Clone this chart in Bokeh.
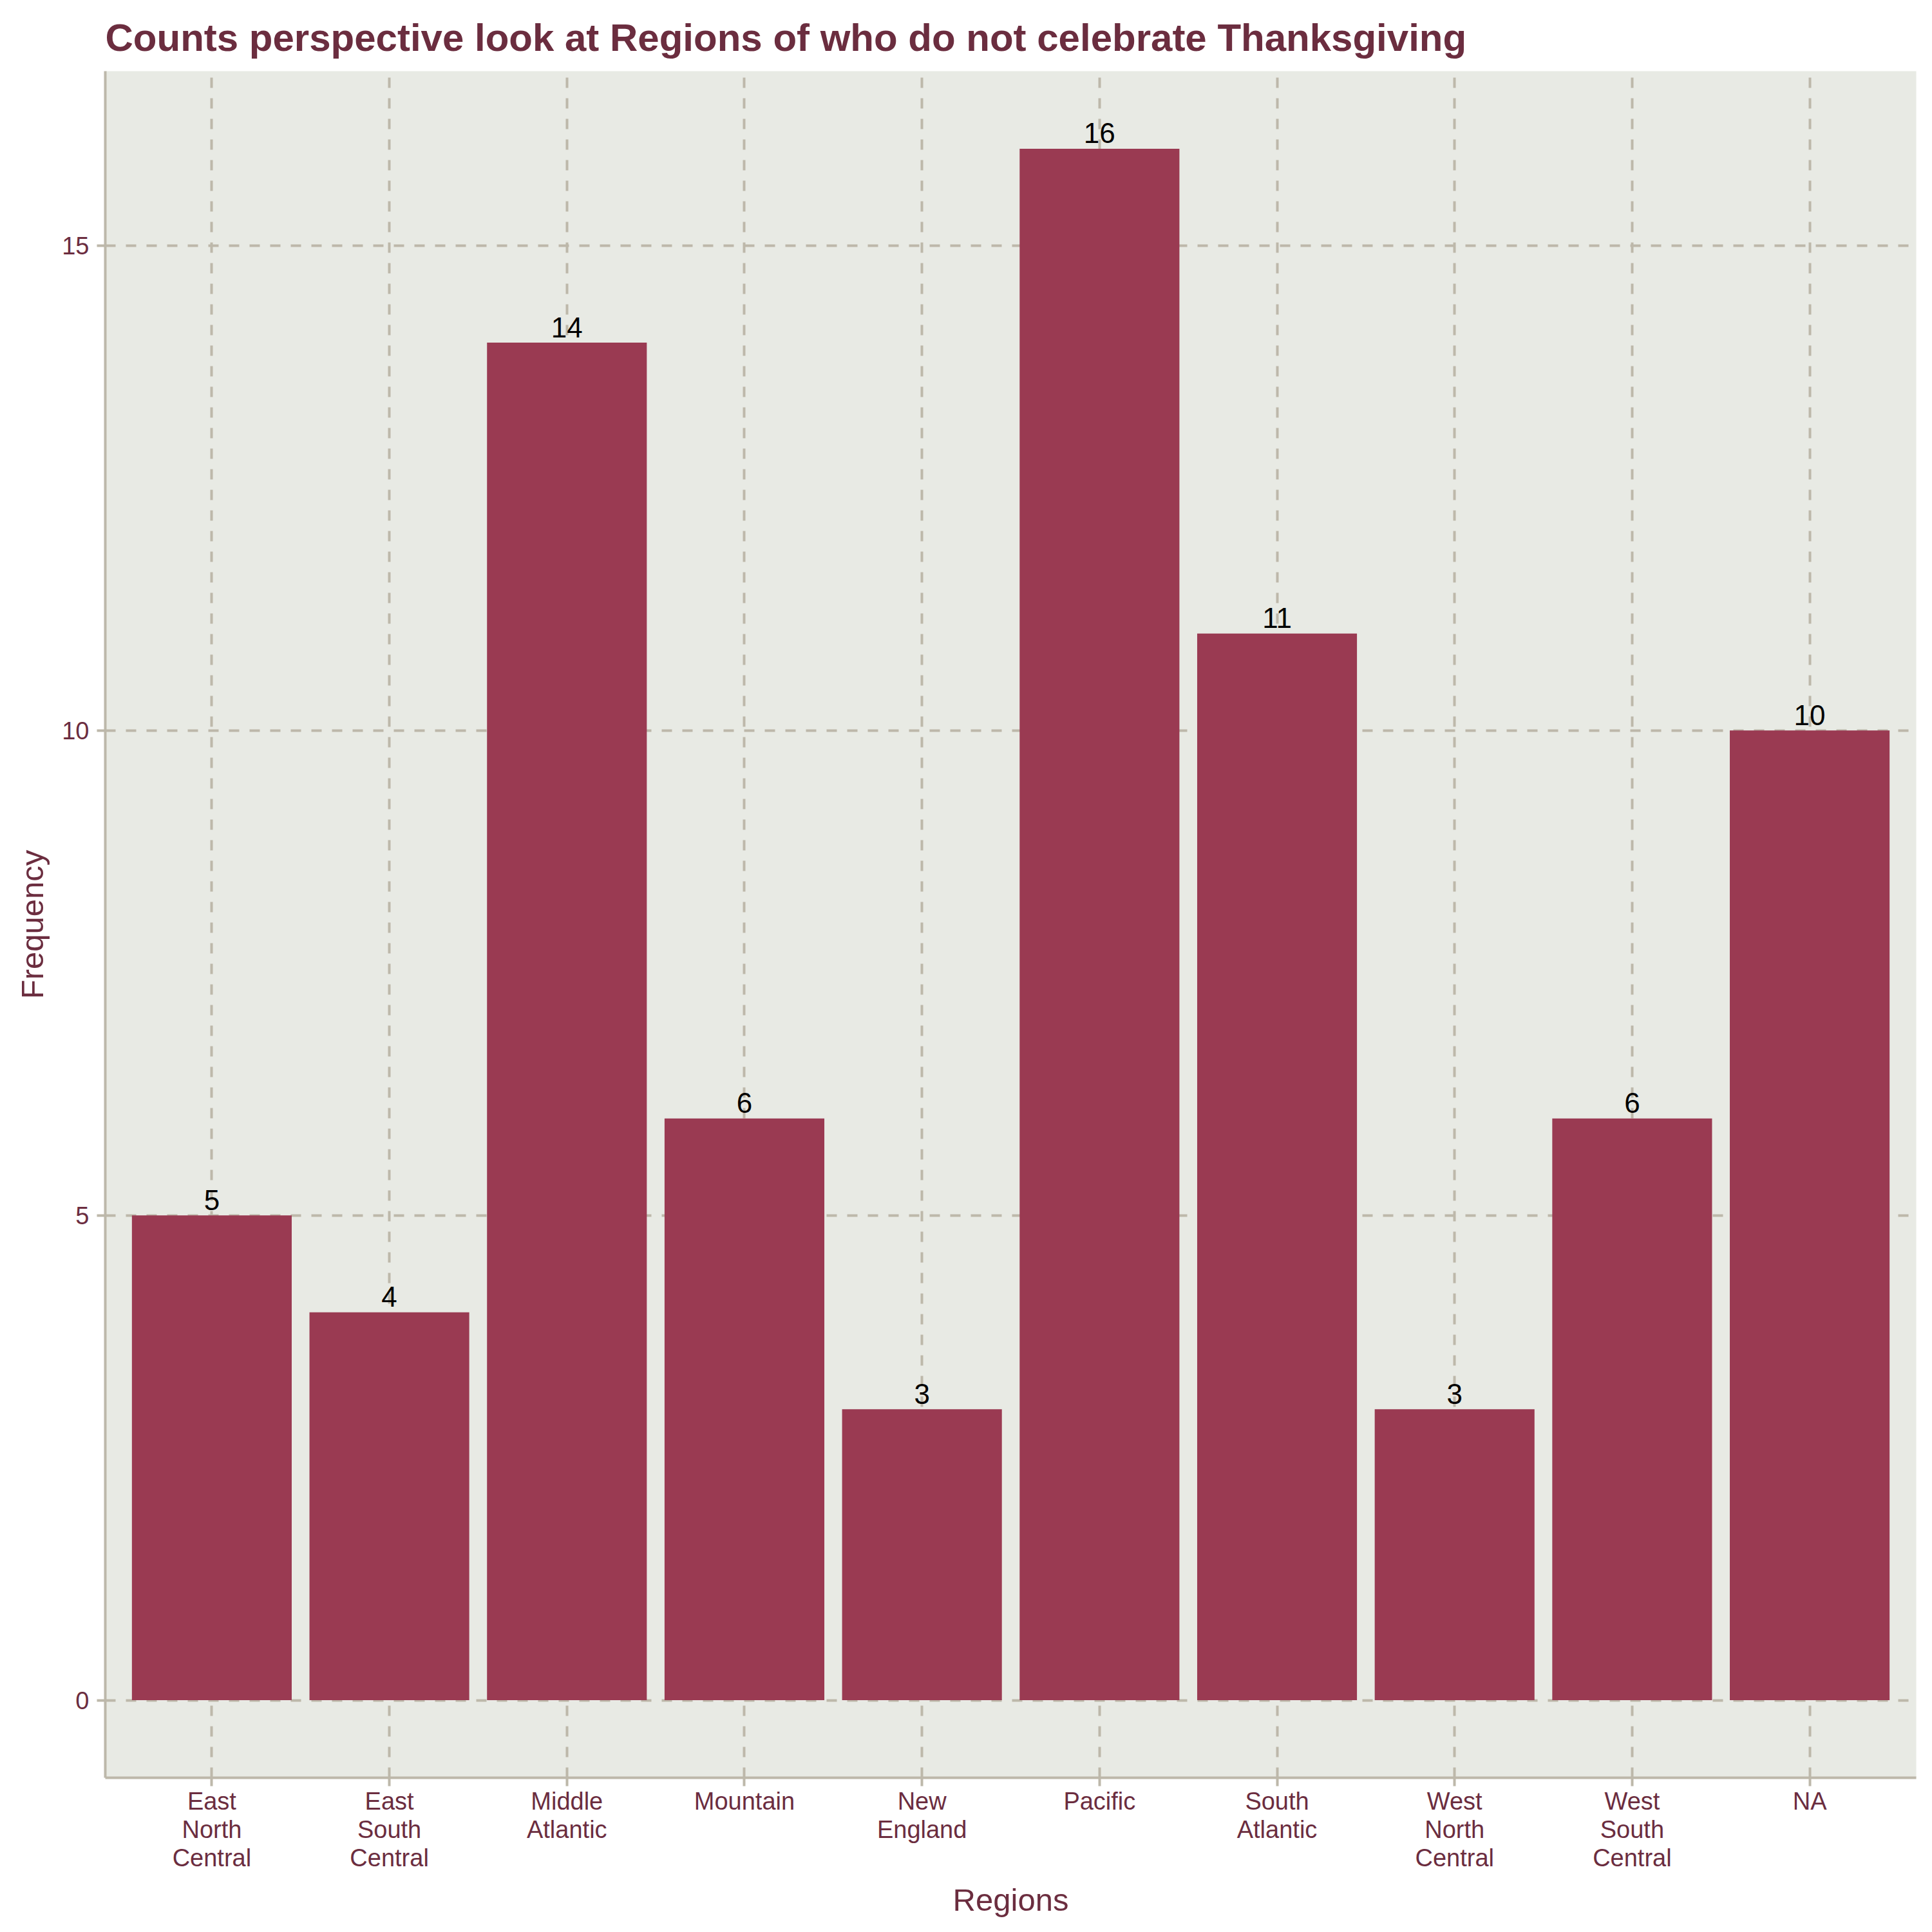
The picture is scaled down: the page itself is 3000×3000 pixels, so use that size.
import numpy as np
from bokeh.plotting import figure
from bokeh.models import ColumnDataSource, FactorRange, Range1d, FixedTicker
from bokeh.core.properties import value
from bokeh.embed import file_html
from bokeh.resources import INLINE

# data
regions = ["East North Central", "East South Central", "Middle Atlantic", "Mountain",
           "New England", "Pacific", "South Atlantic", "West North Central",
           "West South Central", "NA"]
counts = [5, 4, 14, 6, 3, 16, 11, 3, 6, 10]
y_ticks = [0, 5, 10, 15]

# colours
maroon = "#6B2D3F"
bar_color = "#9A3A52"
panel_bg = "#E8EAE4"
grid_color = "#BDB8AA"
font = "Liberation Sans"

# wrap region names one word per line, like the axis labels
labels = [r.replace(" ", "\n") for r in regions]

source = ColumnDataSource(dict(x=labels, count=counts, txt=[str(c) for c in counts]))

p = figure(width=2984, height=2984,
           x_range=FactorRange(factors=labels, range_padding=0.02),
           y_range=Range1d(-0.8, 16.8),
           output_backend="svg", toolbar_location=None,
           title="Counts perspective look at Regions of who do not celebrate Thanksgiving",
           min_border_left=163, min_border_right=9,
           min_border_top=110, min_border_bottom=224)

p.background_fill_color = panel_bg
p.border_fill_color = "white"
p.outline_line_color = None

# title
p.title.text_font = font
p.title.text_font_size = "60px"
p.title.text_font_style = "bold"
p.title.text_color = maroon
p.title.standoff = 38
p.title.offset = 0

# grid
for g in (p.xgrid, p.ygrid):
    g.grid_line_color = grid_color
    g.grid_line_width = 4
    g.grid_line_dash = "16 16"
p.yaxis.ticker = FixedTicker(ticks=y_ticks)

# axes
for ax in (p.xaxis, p.yaxis):
    ax.axis_line_color = grid_color
    ax.axis_line_width = 4
    ax.major_tick_line_color = grid_color
    ax.major_tick_line_width = 4
    ax.major_tick_out = 13
    ax.major_tick_in = 0
    ax.minor_tick_line_color = None
    ax.major_label_text_font = font
    ax.major_label_text_font_size = "38px"
    ax.major_label_text_color = maroon
    ax.major_label_text_line_height = 1.05
    ax.axis_label_text_font = font
    ax.axis_label_text_font_size = "49px"
    ax.axis_label_text_font_style = "normal"
    ax.axis_label_text_color = maroon

p.xaxis.axis_label = "Regions"
p.yaxis.axis_label = "Frequency"
p.xaxis.major_label_standoff = 2
p.yaxis.major_label_standoff = 12
p.xaxis.axis_label_standoff = 14
p.yaxis.axis_label_standoff = 16

# bars
p.vbar(x="x", top="count", bottom=0, width=0.9, source=source,
       fill_color=bar_color, line_color=None)

# count labels above bars
p.text(x="x", y="count", text="txt", source=source,
       text_font=value(font), text_font_size="44px", text_color="black",
       text_align="center", text_baseline="alphabetic", y_offset=-24)

open("out.html", "w").write(file_html(p, INLINE))
